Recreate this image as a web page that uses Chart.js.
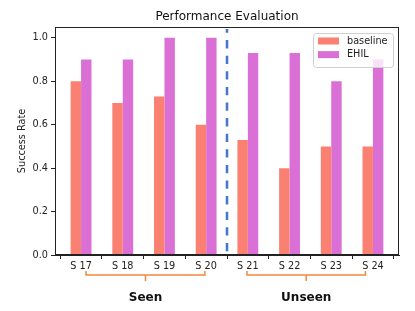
<!DOCTYPE html>
<html>
<head>
<meta charset="utf-8">
<script src="https://cdn.jsdelivr.net/npm/chart.js@4.4.1/dist/chart.umd.min.js"></script>
<style>
  html, body { margin: 0; padding: 0; background: #fff; }
  #wrap { width: 415px; height: 311px; }
</style>
</head>
<body>
<div id="wrap"><canvas id="perf-chart" width="415" height="311"></canvas></div>
<script>
// --- data ---
const scenarios = ['S 17', 'S 18', 'S 19', 'S 20', 'S 21', 'S 22', 'S 23', 'S 24'];
const baseline  = [0.80, 0.70, 0.73, 0.60, 0.53, 0.40, 0.50, 0.50];
const ehil      = [0.90, 0.90, 1.00, 1.00, 0.93, 0.93, 0.80, 0.90];
const yTicks    = [0.0, 0.2, 0.4, 0.6, 0.8, 1.0];
const groupNames = ['Seen', 'Unseen'];

const FONT = 'DejaVu Sans';
const _salmon = '#fa8072', _orchid = '#da70d6', _blue = '#4a78c8', _orange = '#f5873a';

// dashed separator between seen / unseen
const separator = {
  id: 'separator',
  afterDatasetsDraw(chart) {
    const { ctx, chartArea: a, scales: { x } } = chart;
    const px = x.getPixelForValue(3.5);
    ctx.save();
    ctx.strokeStyle = _blue;
    ctx.lineWidth = 2.6;
    ctx.setLineDash([8.3, 7.3]);
    ctx.lineDashOffset = 4.5;
    ctx.beginPath();
    ctx.moveTo(px, a.top + 2);
    ctx.lineTo(px, a.bottom);
    ctx.stroke();
    ctx.restore();
  }
};

// matplotlib-ish box, title, legend and group brackets
const decor = {
  id: 'decor',
  afterDraw(chart) {
    const { ctx, chartArea: a, scales: { x } } = chart;
    ctx.save();

    // frame
    ctx.strokeStyle = '#222';
    ctx.lineWidth = 1;
    ctx.strokeRect(Math.round(a.left) + 0.5, Math.round(a.top) + 0.5,
                   Math.round(a.right - a.left) - 1, Math.round(a.bottom - a.top) - 1);

    // title
    ctx.fillStyle = '#111';
    ctx.font = `12px '${FONT}'`;
    ctx.textAlign = 'center';
    ctx.textBaseline = 'middle';
    ctx.fillText('Performance Evaluation', (a.left + a.right) / 2, 17);

    // legend
    const lx = 313, ly = 33, lw = 80, lh = 34;
    ctx.fillStyle = 'rgba(255,255,255,0.8)';
    ctx.strokeStyle = '#d0d0d0';
    ctx.beginPath();
    ctx.roundRect(lx + 0.5, ly + 0.5, lw, lh, 3);
    ctx.fill();
    ctx.stroke();
    ctx.font = `9.7px '${FONT}'`;
    ctx.textAlign = 'left';
    chart.data.datasets.forEach((ds, i) => {
      const cy = ly + 8 + i * 13.6;
      ctx.fillStyle = ds.backgroundColor;
      ctx.fillRect(lx + 5, cy - 3.5, 21, 7);
      ctx.fillStyle = '#222';
      ctx.fillText(ds.label, lx + 34, cy);
    });

    // group brackets
    const spans = [[0.12, 2.97], [3.98, 6.82]];
    const by = 275;
    ctx.strokeStyle = _orange;
    ctx.lineWidth = 1.5;
    spans.forEach(([s, e], i) => {
      const x0 = x.getPixelForValue(s), x1 = x.getPixelForValue(e);
      const xm = (x0 + x1) / 2;
      ctx.beginPath();
      ctx.moveTo(x0, by - 4);
      ctx.lineTo(x0, by);
      ctx.lineTo(x1, by);
      ctx.lineTo(x1, by - 4);
      ctx.moveTo(xm, by);
      ctx.lineTo(xm, by + 6);
      ctx.stroke();
      ctx.fillStyle = '#111';
      ctx.font = `bold 12px '${FONT}'`;
      ctx.textAlign = 'center';
      ctx.fillText(groupNames[i], xm, 298);
    });

    ctx.restore();
  }
};

const ctx = document.getElementById('perf-chart').getContext('2d');
new Chart(ctx, {
  type: 'bar',
  data: {
    datasets: [
      { label: 'baseline', data: baseline.map((v, i) => ({ x: i, y: v })),
        backgroundColor: _salmon, borderWidth: 0 },
      { label: 'EHIL', data: ehil.map((v, i) => ({ x: i, y: v })),
        backgroundColor: _orchid, borderWidth: 0 }
    ]
  },
  options: {
    responsive: false,
    animation: false,
    devicePixelRatio: 1,
    categoryPercentage: 0.5,
    barPercentage: 1.0,
    layout: { padding: { top: 27, right: 16, left: 17, bottom: 0 } },
    plugins: { legend: { display: false }, title: { display: false }, tooltip: { enabled: false } },
    scales: {
      x: {
        type: 'linear',
        min: -0.625, max: 7.625,
        offset: false,
        afterBuildTicks: axis => { axis.ticks = scenarios.map((_, i) => ({ value: i })); },
        afterFit: axis => { axis.height = 56; },
        grid: { drawOnChartArea: false, drawTicks: true, tickLength: 4, color: '#222' },
        border: { display: true, color: '#222' },
        ticks: {
          color: '#222', padding: 2, maxRotation: 0, autoSkip: false,
          font: { family: FONT, size: 9.7 },
          callback: v => scenarios[v] ?? ''
        }
      },
      y: {
        min: 0, max: 1.05,
        afterBuildTicks: axis => { axis.ticks = yTicks.map(v => ({ value: v })); },
        afterFit: axis => { axis.width = 38; },
        grid: { drawOnChartArea: false, drawTicks: true, tickLength: 4, color: '#222' },
        border: { display: true, color: '#222' },
        title: { display: true, text: 'Success Rate', color: '#222', padding: 0,
                 font: { family: FONT, size: 9.7 } },
        ticks: {
          color: '#222', padding: 3,
          font: { family: FONT, size: 9.7 },
          callback: v => v.toFixed(1)
        }
      }
    }
  },
  plugins: [separator, decor]
});
</script>
</body>
</html>
